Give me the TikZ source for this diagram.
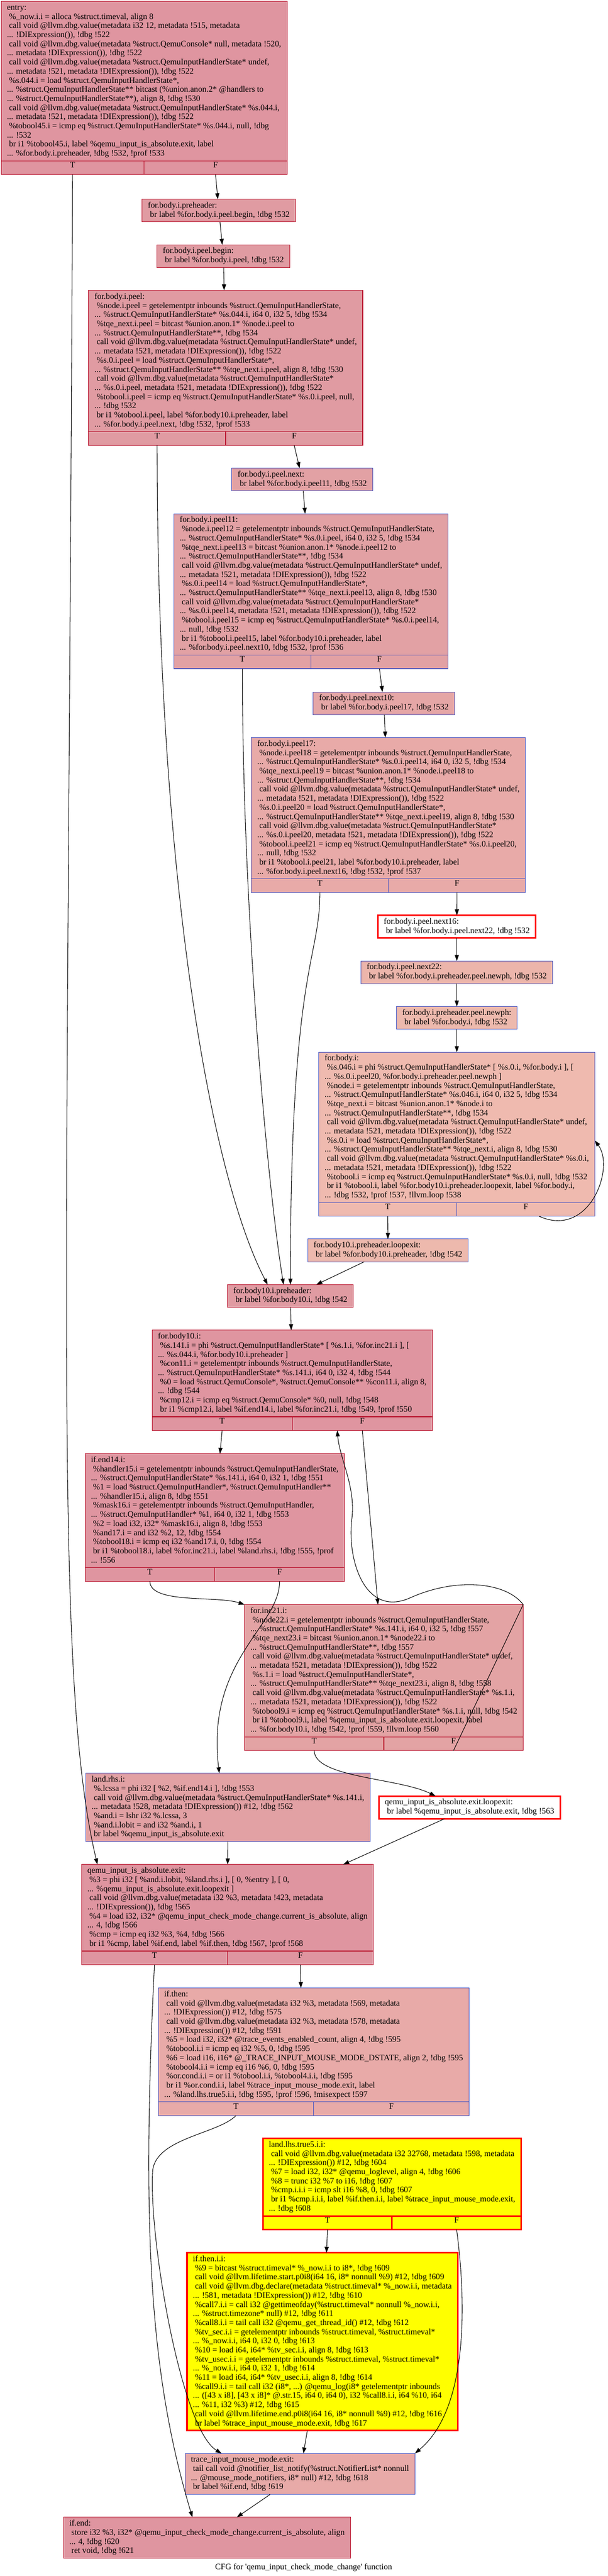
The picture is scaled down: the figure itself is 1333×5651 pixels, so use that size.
\documentclass[tikz,border=0pt]{standalone}
\usepackage{fontspec}
\setmainfont{Liberation Serif}
\usetikzlibrary{arrows.meta,calc,fit}
\definecolor{heatred}{HTML}{B70D28}
\definecolor{heatblue}{HTML}{3D50C3}
\definecolor{fHot}{HTML}{DF95A0}
\definecolor{fHotB}{HTML}{E09BA2}
\definecolor{fWarm}{HTML}{E2A1A4}
\definecolor{fWarmB}{HTML}{E3A3A4}
\definecolor{fMid}{HTML}{E5A6A6}
\definecolor{fMidB}{HTML}{E8AAA8}
\definecolor{fCool}{HTML}{ECB5AB}
\definecolor{fCoolB}{HTML}{EDB9AD}
\definecolor{fCold}{HTML}{EFBAAF}
\definecolor{flagyellow}{HTML}{FFFF00}
\newcommand\cfgfont{\fontsize{18.3}{20}\selectfont}
\newcommand\blk[1]{\begin{tabular}{@{}l@{}}#1\end{tabular}}
\newcommand\ind{\hspace*{4.6pt}}
\newcommand\tfrow[2]{%
	\coordinate (#1-m) at ($(#1.south)+(0,30)$);
	\node[tfcell, #2, fit=(#1.south west)(#1-m)] (#1-T) {T};
	\node[tfcell, #2, fit=(#1-m)(#1.south east)] (#1-F) {F};
}
\begin{document}
\begin{tikzpicture}[x=1pt, y=-1pt,
	cfgbox/.style={draw, line width=1.2pt, inner xsep=13pt, inner ysep=5pt, outer sep=0pt, anchor=north, font=\cfgfont},
	tfcell/.style={draw, line width=1.2pt, inner sep=0pt, outer sep=0pt, anchor=center, font=\cfgfont},
	redrim/.style={draw=heatred, fill=#1},
	bluerim/.style={draw=heatblue, fill=#1},
	flagrim/.style={draw=red, line width=3.5pt, fill=#1},
	flow/.style={-{Triangle[length=13pt,width=9pt]}, line width=1.2pt}]
	\useasboundingbox[fill=white] (0,0) rectangle (1333,5651);

	\node[cfgbox, redrim=fHot] (entry) at (316,3) {\blk{entry:\\
		\ind \%\_now.i.i = alloca \%struct.timeval, align 8\\
		\ind call void @llvm.dbg.value(metadata i32 12, metadata !515, metadata\\
		... !DIExpression()), !dbg !522\\
		\ind call void @llvm.dbg.value(metadata \%struct.QemuConsole* null, metadata !520,\\
		... metadata !DIExpression()), !dbg !522\\
		\ind call void @llvm.dbg.value(metadata \%struct.QemuInputHandlerState* undef,\\
		... metadata !521, metadata !DIExpression()), !dbg !522\\
		\ind \%s.044.i = load \%struct.QemuInputHandlerState*,\\
		... \%struct.QemuInputHandlerState** bitcast (\%union.anon.2* @handlers to\\
		... \%struct.QemuInputHandlerState**), align 8, !dbg !530\\
		\ind call void @llvm.dbg.value(metadata \%struct.QemuInputHandlerState* \%s.044.i,\\
		... metadata !521, metadata !DIExpression()), !dbg !522\\
		\ind \%tobool45.i = icmp eq \%struct.QemuInputHandlerState* \%s.044.i, null, !dbg\\
		... !532\\
		\ind br i1 \%tobool45.i, label \%qemu\_input\_is\_absolute.exit, label\\
		... \%for.body.i.preheader, !dbg !532, !prof !533}};
	\tfrow{entry}{redrim=fHot}

	\node[cfgbox, redrim=fHotB] (preheader) at (480,437) {\blk{for.body.i.preheader:\\
		\ind br label \%for.body.i.peel.begin, !dbg !532}};

	\node[cfgbox, redrim=fHotB] (peelbegin) at (490,537) {\blk{for.body.i.peel.begin:\\
		\ind br label \%for.body.i.peel, !dbg !532}};

	\node[cfgbox, redrim=fHotB] (peel) at (495,637) {\blk{for.body.i.peel:\\
		\ind \%node.i.peel = getelementptr inbounds \%struct.QemuInputHandlerState,\\
		... \%struct.QemuInputHandlerState* \%s.044.i, i64 0, i32 5, !dbg !534\\
		\ind \%tqe\_next.i.peel = bitcast \%union.anon.1* \%node.i.peel to\\
		... \%struct.QemuInputHandlerState**, !dbg !534\\
		\ind call void @llvm.dbg.value(metadata \%struct.QemuInputHandlerState* undef,\\
		... metadata !521, metadata !DIExpression()), !dbg !522\\
		\ind \%s.0.i.peel = load \%struct.QemuInputHandlerState*,\\
		... \%struct.QemuInputHandlerState** \%tqe\_next.i.peel, align 8, !dbg !530\\
		\ind call void @llvm.dbg.value(metadata \%struct.QemuInputHandlerState*\\
		... \%s.0.i.peel, metadata !521, metadata !DIExpression()), !dbg !522\\
		\ind \%tobool.i.peel = icmp eq \%struct.QemuInputHandlerState* \%s.0.i.peel, null,\\
		... !dbg !532\\
		\ind br i1 \%tobool.i.peel, label \%for.body10.i.preheader, label\\
		... \%for.body.i.peel.next, !dbg !532, !prof !533}};
	\tfrow{peel}{redrim=fHotB}

	\node[cfgbox, bluerim=fWarm] (peelnext) at (663,1027) {\blk{for.body.i.peel.next:\\
		\ind br label \%for.body.i.peel11, !dbg !532}};

	\node[cfgbox, bluerim=fWarm] (peel11) at (682,1127) {\blk{for.body.i.peel11:\\
		\ind \%node.i.peel12 = getelementptr inbounds \%struct.QemuInputHandlerState,\\
		... \%struct.QemuInputHandlerState* \%s.0.i.peel, i64 0, i32 5, !dbg !534\\
		\ind \%tqe\_next.i.peel13 = bitcast \%union.anon.1* \%node.i.peel12 to\\
		... \%struct.QemuInputHandlerState**, !dbg !534\\
		\ind call void @llvm.dbg.value(metadata \%struct.QemuInputHandlerState* undef,\\
		... metadata !521, metadata !DIExpression()), !dbg !522\\
		\ind \%s.0.i.peel14 = load \%struct.QemuInputHandlerState*,\\
		... \%struct.QemuInputHandlerState** \%tqe\_next.i.peel13, align 8, !dbg !530\\
		\ind call void @llvm.dbg.value(metadata \%struct.QemuInputHandlerState*\\
		... \%s.0.i.peel14, metadata !521, metadata !DIExpression()), !dbg !522\\
		\ind \%tobool.i.peel15 = icmp eq \%struct.QemuInputHandlerState* \%s.0.i.peel14,\\
		... null, !dbg !532\\
		\ind br i1 \%tobool.i.peel15, label \%for.body10.i.preheader, label\\
		... \%for.body.i.peel.next10, !dbg !532, !prof !536}};
	\tfrow{peel11}{bluerim=fWarm}

	\node[cfgbox, bluerim=fMid] (next10) at (842,1518) {\blk{for.body.i.peel.next10:\\
		\ind br label \%for.body.i.peel17, !dbg !532}};

	\node[cfgbox, bluerim=fMidB] (peel17) at (852,1618) {\blk{for.body.i.peel17:\\
		\ind \%node.i.peel18 = getelementptr inbounds \%struct.QemuInputHandlerState,\\
		... \%struct.QemuInputHandlerState* \%s.0.i.peel14, i64 0, i32 5, !dbg !534\\
		\ind \%tqe\_next.i.peel19 = bitcast \%union.anon.1* \%node.i.peel18 to\\
		... \%struct.QemuInputHandlerState**, !dbg !534\\
		\ind call void @llvm.dbg.value(metadata \%struct.QemuInputHandlerState* undef,\\
		... metadata !521, metadata !DIExpression()), !dbg !522\\
		\ind \%s.0.i.peel20 = load \%struct.QemuInputHandlerState*,\\
		... \%struct.QemuInputHandlerState** \%tqe\_next.i.peel19, align 8, !dbg !530\\
		\ind call void @llvm.dbg.value(metadata \%struct.QemuInputHandlerState*\\
		... \%s.0.i.peel20, metadata !521, metadata !DIExpression()), !dbg !522\\
		\ind \%tobool.i.peel21 = icmp eq \%struct.QemuInputHandlerState* \%s.0.i.peel20,\\
		... null, !dbg !532\\
		\ind br i1 \%tobool.i.peel21, label \%for.body10.i.preheader, label\\
		... \%for.body.i.peel.next16, !dbg !532, !prof !537}};
	\tfrow{peel17}{bluerim=fMidB}

	\node[cfgbox, flagrim=white] (next16) at (1002,2008) {\blk{for.body.i.peel.next16:\\
		\ind br label \%for.body.i.peel.next22, !dbg !532}};

	\node[cfgbox, bluerim=fCool] (next22) at (1002,2108) {\blk{for.body.i.peel.next22:\\
		\ind br label \%for.body.i.preheader.peel.newph, !dbg !532}};

	\node[cfgbox, bluerim=fCoolB] (newph) at (1002,2208) {\blk{for.body.i.preheader.peel.newph:\\
		\ind br label \%for.body.i, !dbg !532}};

	\node[cfgbox, bluerim=fCold] (bodyi) at (1002,2308) {\blk{for.body.i:\\
		\ind \%s.046.i = phi \%struct.QemuInputHandlerState* [ \%s.0.i, \%for.body.i ], [\\
		... \%s.0.i.peel20, \%for.body.i.preheader.peel.newph ]\\
		\ind \%node.i = getelementptr inbounds \%struct.QemuInputHandlerState,\\
		... \%struct.QemuInputHandlerState* \%s.046.i, i64 0, i32 5, !dbg !534\\
		\ind \%tqe\_next.i = bitcast \%union.anon.1* \%node.i to\\
		... \%struct.QemuInputHandlerState**, !dbg !534\\
		\ind call void @llvm.dbg.value(metadata \%struct.QemuInputHandlerState* undef,\\
		... metadata !521, metadata !DIExpression()), !dbg !522\\
		\ind \%s.0.i = load \%struct.QemuInputHandlerState*,\\
		... \%struct.QemuInputHandlerState** \%tqe\_next.i, align 8, !dbg !530\\
		\ind call void @llvm.dbg.value(metadata \%struct.QemuInputHandlerState* \%s.0.i,\\
		... metadata !521, metadata !DIExpression()), !dbg !522\\
		\ind \%tobool.i = icmp eq \%struct.QemuInputHandlerState* \%s.0.i, null, !dbg !532\\
		\ind br i1 \%tobool.i, label \%for.body10.i.preheader.loopexit, label \%for.body.i,\\
		... !dbg !532, !prof !537, !llvm.loop !538}};
	\tfrow{bodyi}{bluerim=fCold}

	\node[cfgbox, bluerim=fCoolB] (loopexit) at (851,2718) {\blk{for.body10.i.preheader.loopexit:\\
		\ind br label \%for.body10.i.preheader, !dbg !542}};

	\node[cfgbox, redrim=fHotB] (b10pre) at (637,2818) {\blk{for.body10.i.preheader:\\
		\ind br label \%for.body10.i, !dbg !542}};

	\node[cfgbox, redrim=fHot] (body10) at (641,2918) {\blk{for.body10.i:\\
		\ind \%s.141.i = phi \%struct.QemuInputHandlerState* [ \%s.1.i, \%for.inc21.i ], [\\
		... \%s.044.i, \%for.body10.i.preheader ]\\
		\ind \%con11.i = getelementptr inbounds \%struct.QemuInputHandlerState,\\
		... \%struct.QemuInputHandlerState* \%s.141.i, i64 0, i32 4, !dbg !544\\
		\ind \%0 = load \%struct.QemuConsole*, \%struct.QemuConsole** \%con11.i, align 8,\\
		... !dbg !544\\
		\ind \%cmp12.i = icmp eq \%struct.QemuConsole* \%0, null, !dbg !548\\
		\ind br i1 \%cmp12.i, label \%if.end14.i, label \%for.inc21.i, !dbg !549, !prof !550}};
	\tfrow{body10}{redrim=fHot}

	\node[cfgbox, redrim=fHot] (ifend14) at (471,3189) {\blk{if.end14.i:\\
		\ind \%handler15.i = getelementptr inbounds \%struct.QemuInputHandlerState,\\
		... \%struct.QemuInputHandlerState* \%s.141.i, i64 0, i32 1, !dbg !551\\
		\ind \%1 = load \%struct.QemuInputHandler*, \%struct.QemuInputHandler**\\
		... \%handler15.i, align 8, !dbg !551\\
		\ind \%mask16.i = getelementptr inbounds \%struct.QemuInputHandler,\\
		... \%struct.QemuInputHandler* \%1, i64 0, i32 1, !dbg !553\\
		\ind \%2 = load i32, i32* \%mask16.i, align 8, !dbg !553\\
		\ind \%and17.i = and i32 \%2, 12, !dbg !554\\
		\ind \%tobool18.i = icmp eq i32 \%and17.i, 0, !dbg !554\\
		\ind br i1 \%tobool18.i, label \%for.inc21.i, label \%land.rhs.i, !dbg !555, !prof\\
		... !556}};
	\tfrow{ifend14}{redrim=fHot}

	\node[cfgbox, redrim=fWarmB] (inc21) at (842,3520) {\blk{for.inc21.i:\\
		\ind \%node22.i = getelementptr inbounds \%struct.QemuInputHandlerState,\\
		... \%struct.QemuInputHandlerState* \%s.141.i, i64 0, i32 5, !dbg !557\\
		\ind \%tqe\_next23.i = bitcast \%union.anon.1* \%node22.i to\\
		... \%struct.QemuInputHandlerState**, !dbg !557\\
		\ind call void @llvm.dbg.value(metadata \%struct.QemuInputHandlerState* undef,\\
		... metadata !521, metadata !DIExpression()), !dbg !522\\
		\ind \%s.1.i = load \%struct.QemuInputHandlerState*,\\
		... \%struct.QemuInputHandlerState** \%tqe\_next23.i, align 8, !dbg !558\\
		\ind call void @llvm.dbg.value(metadata \%struct.QemuInputHandlerState* \%s.1.i,\\
		... metadata !521, metadata !DIExpression()), !dbg !522\\
		\ind \%tobool9.i = icmp eq \%struct.QemuInputHandlerState* \%s.1.i, null, !dbg !542\\
		\ind br i1 \%tobool9.i, label \%qemu\_input\_is\_absolute.exit.loopexit, label\\
		... \%for.body10.i, !dbg !542, !prof !559, !llvm.loop !560}};
	\tfrow{inc21}{redrim=fWarmB}

	\node[cfgbox, bluerim=fWarm] (landrhs) at (500,3890) {\blk{land.rhs.i:\\
		\ind \%.lcssa = phi i32 [ \%2, \%if.end14.i ], !dbg !553\\
		\ind call void @llvm.dbg.value(metadata \%struct.QemuInputHandlerState* \%s.141.i,\\
		... metadata !528, metadata !DIExpression()) \#12, !dbg !562\\
		\ind \%and.i = lshr i32 \%.lcssa, 3\\
		\ind \%and.i.lobit = and i32 \%and.i, 1\\
		\ind br label \%qemu\_input\_is\_absolute.exit}};

	\node[cfgbox, flagrim=white] (absloopexit) at (1030,3940) {\blk{qemu\_input\_is\_absolute.exit.loopexit:\\
		\ind br label \%qemu\_input\_is\_absolute.exit, !dbg !563}};

	\node[cfgbox, redrim=fHot] (absexit) at (499,4090) {\blk{qemu\_input\_is\_absolute.exit:\\
		\ind \%3 = phi i32 [ \%and.i.lobit, \%land.rhs.i ], [ 0, \%entry ], [ 0,\\
		... \%qemu\_input\_is\_absolute.exit.loopexit ]\\
		\ind call void @llvm.dbg.value(metadata i32 \%3, metadata !423, metadata\\
		... !DIExpression()), !dbg !565\\
		\ind \%4 = load i32, i32* @qemu\_input\_check\_mode\_change.current\_is\_absolute, align\\
		... 4, !dbg !566\\
		\ind \%cmp = icmp eq i32 \%3, \%4, !dbg !566\\
		\ind br i1 \%cmp, label \%if.end, label \%if.then, !dbg !567, !prof !568}};
	\tfrow{absexit}{redrim=fHot}

	\node[cfgbox, bluerim=fMidB] (ifthen) at (688,4361) {\blk{if.then:\\
		\ind call void @llvm.dbg.value(metadata i32 \%3, metadata !569, metadata\\
		... !DIExpression()) \#12, !dbg !575\\
		\ind call void @llvm.dbg.value(metadata i32 \%3, metadata !578, metadata\\
		... !DIExpression()) \#12, !dbg !591\\
		\ind \%5 = load i32, i32* @trace\_events\_enabled\_count, align 4, !dbg !595\\
		\ind \%tobool.i.i = icmp eq i32 \%5, 0, !dbg !595\\
		\ind \%6 = load i16, i16* @\_TRACE\_INPUT\_MOUSE\_MODE\_DSTATE, align 2, !dbg !595\\
		\ind \%tobool4.i.i = icmp eq i16 \%6, 0, !dbg !595\\
		\ind \%or.cond.i.i = or i1 \%tobool.i.i, \%tobool4.i.i, !dbg !595\\
		\ind br i1 \%or.cond.i.i, label \%trace\_input\_mouse\_mode.exit, label\\
		... \%land.lhs.true5.i.i, !dbg !595, !prof !596, !misexpect !597}};
	\tfrow{ifthen}{bluerim=fMidB}

	\node[cfgbox, flagrim=flagyellow] (lhstrue) at (860,4691) {\blk{land.lhs.true5.i.i:\\
		\ind call void @llvm.dbg.value(metadata i32 32768, metadata !598, metadata\\
		... !DIExpression()) \#12, !dbg !604\\
		\ind \%7 = load i32, i32* @qemu\_loglevel, align 4, !dbg !606\\
		\ind \%8 = trunc i32 \%7 to i16, !dbg !607\\
		\ind \%cmp.i.i.i = icmp slt i16 \%8, 0, !dbg !607\\
		\ind br i1 \%cmp.i.i.i, label \%if.then.i.i, label \%trace\_input\_mouse\_mode.exit,\\
		... !dbg !608}};
	\tfrow{lhstrue}{flagrim=flagyellow}

	\node[cfgbox, flagrim=flagyellow] (ifthenii) at (707,4942) {\blk{if.then.i.i:\\
		\ind \%9 = bitcast \%struct.timeval* \%\_now.i.i to i8*, !dbg !609\\
		\ind call void @llvm.lifetime.start.p0i8(i64 16, i8* nonnull \%9) \#12, !dbg !609\\
		\ind call void @llvm.dbg.declare(metadata \%struct.timeval* \%\_now.i.i, metadata\\
		... !581, metadata !DIExpression()) \#12, !dbg !610\\
		\ind \%call7.i.i = call i32 @gettimeofday(\%struct.timeval* nonnull \%\_now.i.i,\\
		... \%struct.timezone* null) \#12, !dbg !611\\
		\ind \%call8.i.i = tail call i32 @qemu\_get\_thread\_id() \#12, !dbg !612\\
		\ind \%tv\_sec.i.i = getelementptr inbounds \%struct.timeval, \%struct.timeval*\\
		... \%\_now.i.i, i64 0, i32 0, !dbg !613\\
		\ind \%10 = load i64, i64* \%tv\_sec.i.i, align 8, !dbg !613\\
		\ind \%tv\_usec.i.i = getelementptr inbounds \%struct.timeval, \%struct.timeval*\\
		... \%\_now.i.i, i64 0, i32 1, !dbg !614\\
		\ind \%11 = load i64, i64* \%tv\_usec.i.i, align 8, !dbg !614\\
		\ind \%call9.i.i = tail call i32 (i8*, ...) @qemu\_log(i8* getelementptr inbounds\\
		... ([43 x i8], [43 x i8]* @.str.15, i64 0, i64 0), i32 \%call8.i.i, i64 \%10, i64\\
		... \%11, i32 \%3) \#12, !dbg !615\\
		\ind call void @llvm.lifetime.end.p0i8(i64 16, i8* nonnull \%9) \#12, !dbg !616\\
		\ind br label \%trace\_input\_mouse\_mode.exit, !dbg !617}};

	\node[cfgbox, bluerim=fMidB] (traceexit) at (658,5382) {\blk{trace\_input\_mouse\_mode.exit:\\
		\ind tail call void @notifier\_list\_notify(\%struct.NotifierList* nonnull\\
		... @mouse\_mode\_notifiers, i8* null) \#12, !dbg !618\\
		\ind br label \%if.end, !dbg !619}};

	\node[cfgbox, redrim=fHot] (ifend) at (454,5522) {\blk{if.end:\\
		\ind store i32 \%3, i32* @qemu\_input\_check\_mode\_change.current\_is\_absolute, align\\
		... 4, !dbg !620\\
		\ind ret void, !dbg !621}};

	\node[font=\cfgfont] (caption) at (666,5632) {CFG for \textquotesingle qemu\_input\_check\_mode\_change\textquotesingle{} function};

	\draw[flow] (entry-T.south) .. controls +(-11,2500) and +(-95,-400) .. ([xshift=35pt]absexit.north west);
	\draw[flow] (entry-F.south) -- (preheader);
	\draw[flow] (preheader) -- (peelbegin);
	\draw[flow] (peelbegin) -- (peel);
	\draw[flow] (peel-T.south) .. controls +(0,923) and +(-130,-250) .. ([xshift=88pt]b10pre.north west);
	\draw[flow] (peel-F.south) -- (peelnext);
	\draw[flow] (peelnext) -- (peel11);
	\draw[flow] (peel11-T.south) .. controls +(0,500) and +(-40,-250) .. ([xshift=123pt]b10pre.north west);
	\draw[flow] (peel11-F.south) -- (next10);
	\draw[flow] (next10) -- (peel17);
	\draw[flow] (peel17-T.south) .. controls +(0,150) and +(0,-700) .. (b10pre.north);
	\draw[flow] (peel17-F.south) -- (next16);
	\draw[flow] (next16) -- (next22);
	\draw[flow] (next22) -- (newph);
	\draw[flow] (newph) -- (bodyi);
	\draw[flow] (bodyi-T.south) -- (loopexit);
	\draw[flow] ([xshift=29pt]bodyi-F.south) .. controls +(110,50) and +(45,60) .. ([yshift=-29pt]bodyi.east);
	\draw[flow] (loopexit) -- ([xshift=57pt]b10pre.north);
	\draw[flow] (b10pre) -- (body10);
	\draw[flow] (body10-T.south) -- (ifend14);
	\draw[flow] (body10-F.south) -- (inc21);
	\draw[flow] (ifend14-T.south) .. controls +(0,50) and +(-60,-20) .. (inc21.north west);
	\draw[flow] (ifend14-F.south) .. controls +(0,100) and +(-30,-250) .. ([xshift=-19pt]landrhs.north);
	\draw[flow] (inc21-T.south) .. controls +(0,60) and +(-80,-40) .. ([xshift=124pt]absloopexit.north west);
	\draw[flow] (inc21-F.south) -- (inc21.north east) .. controls (1110,3470) and (1000,3460) .. (900,3505)
		.. controls (800,3550) and (760,3420) .. (772,3330) .. controls (780,3260) and (745,3200) .. ([xshift=-55pt]body10-F.south);
	\draw[flow] (landrhs) -- (absexit);
	\draw[flow] (absloopexit) -- ([xshift=254pt]absexit.north);
	\draw[flow] (absexit-T.south) .. controls +(-30,600) and +(-90,-300) .. ([xshift=-32pt]ifend.north);
	\draw[flow] (absexit-F.south) -- ([xshift=-28pt]ifthen.north);
	\draw[flow] (ifthen-T.south) .. controls +(-40,40) and +(10,-70) .. (335,4760) .. controls +(-10,140) and +(-90,-55) .. ([xshift=80pt]traceexit.north west);
	\draw[flow] (lhstrue-T.south) -- (ifthenii);
	\draw[flow] (lhstrue-F.south) .. controls +(20,150) and +(120,-100) .. (traceexit.north east);
	\draw[flow] (ifthenii) -- (traceexit);
	\draw[flow] (traceexit) -- (ifend);
\end{tikzpicture}
\end{document}
